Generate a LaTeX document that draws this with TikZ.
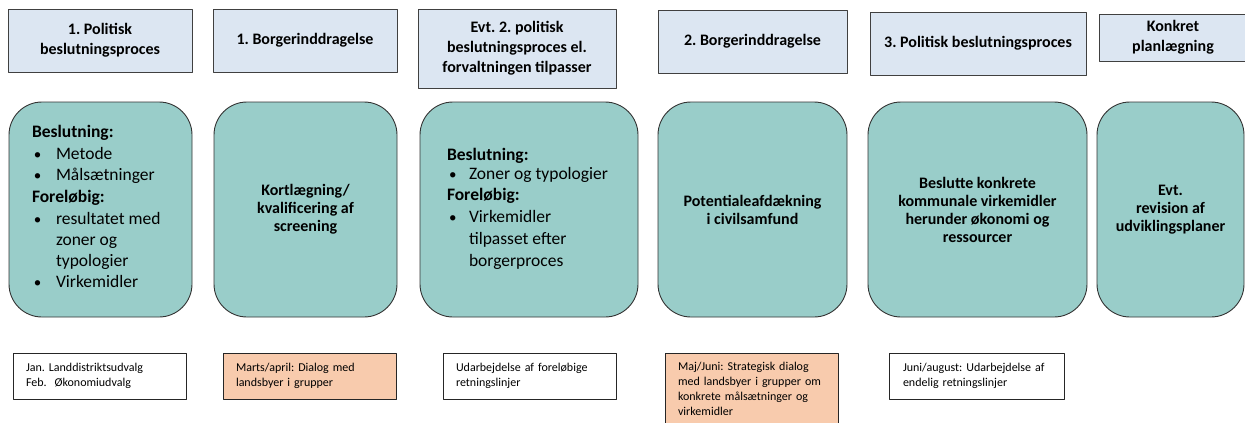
\documentclass[tikz,border=0pt]{standalone}
\usepackage{fontspec}
\setmainfont{Carlito}
\usepackage{tikz}
\usetikzlibrary{shadows}
\frenchspacing

\definecolor{phaseblue}{RGB}{220,230,242}
\definecolor{stageteal}{RGB}{153,205,201}
\definecolor{noteorange}{RGB}{248,203,173}

\begin{document}
\begin{tikzpicture}[
						x=1pt, y=-1pt,
						every node/.style={inner sep=0pt, outer sep=0pt},
						line cap=round,
						line join=round,
						phasebox/.style={draw=black!75, line width=0.8pt, fill=phaseblue,
							align=center, font=\fontsize{16}{20}\selectfont\bfseries,
							drop shadow={shadow xshift=0.8pt, shadow yshift=-0.8pt, opacity=0.3}},
						stagebox/.style={draw=black!80, line width=0.9pt, fill=stageteal,
							rounded corners=33pt, minimum height=215pt,
							align=center, font=\fontsize{16}{18}\selectfont\bfseries},
						listhead/.style={anchor=mid west, font=\fontsize{17.5}{21}\selectfont\bfseries},
						listitem/.style={anchor=mid west, font=\fontsize{17.5}{21}\selectfont},
						listdot/.style={anchor=mid west, font=\fontsize{15}{21}\selectfont},
						notebox/.style={draw=black!85, line width=0.7pt, fill=white,
							text width=147pt, inner xsep=13pt, minimum height=46pt,
							align=left, font=\fontsize{12}{15}\selectfont,
							drop shadow={shadow xshift=0.6pt, shadow yshift=-0.8pt, opacity=0.3}},
						notehl/.style={notebox, fill=noteorange}
						]
						
						\useasboundingbox (0,0) rectangle (1245,423);
						
						% Phases
						\node[phasebox, minimum width=184pt, minimum height=63pt] (pol1) at (100,40.5)
						{1. Politisk\\beslutningsproces};
						\node[phasebox, minimum width=184pt, minimum height=63pt] (borg1) at (305,40.5)
						{1. Borgerinddragelse};
						\node[phasebox, minimum width=198pt, minimum height=79pt] (pol2) at (517,48.5)
						{Evt. 2. politisk\\beslutningsproces el.\\forvaltningen tilpasser};
						\node[phasebox, minimum width=189pt, minimum height=63pt] (borg2) at (752.5,41.5)
						{2. Borgerinddragelse};
						\node[phasebox, minimum width=216pt, minimum height=63pt] (pol3) at (978,43.5)
						{3. Politisk beslutningsproces};
						\node[phasebox, minimum width=148pt, minimum height=47pt] (plan) at (1173,37.5)
						{Konkret\\planlægning};
						
						% Stage 1
						\node[stagebox, minimum width=183pt] (stage1) at (100.5,209.5) {};
						\node[listhead] (s1head1) at (32,135) {Beslutning:};
						\node[listhead] (s1head2) at (32,200) {Foreløbig:};
						\foreach \y in {157,178,222,285}
						\node[listdot] (s1dot\y) at (34,\y) {\textbullet};
						\foreach \y/\t in {157/Metode, 178/Målsætninger, 222/resultatet med,
							243/zoner og, 264/typologier, 285/Virkemidler}
						\node[listitem] (s1item\y) at (56,\y) {\t};
						
						% Stage 2
						\node[stagebox, minimum width=183pt] (stage2) at (305.5,209.5)
						{Kortlægning/\\kvalificering af\\screening};
						
						% Stage 3
						\node[stagebox, minimum width=218pt] (stage3) at (529,209.5) {};
						\node[listhead] (s3head1) at (447,158) {Beslutning:};
						\node[listhead] (s3head2) at (447,198) {Foreløbig:};
						\foreach \y in {177,220}
						\node[listdot] (s3dot\y) at (449,\y) {\textbullet};
						\foreach \y/\t in {177/Zoner og typologier, 220/Virkemidler,
							242/tilpasset efter, 264/borgerproces}
						\node[listitem] (s3item\y) at (469,\y) {\t};
						
						% Stage 4
						\node[stagebox, minimum width=189pt] (stage4) at (752.5,209.5)
						{Potentialeafdækning\\i civilsamfund};
						
						% Stage 5
						\node[stagebox, minimum width=219pt] (stage5) at (977.5,209.5)
						{Beslutte konkrete\\kommunale virkemidler\\herunder økonomi og\\ressourcer};
						
						% Stage 6
						\node[stagebox, minimum width=147pt] (stage6) at (1170.5,209.5)
						{Evt.\\revision af\\udviklingsplaner};
						
						% Notes
						\node[notebox] (note1) at (99.5,376)
						{Jan. Landdistriktsudvalg\\Feb.~~Økonomiudvalg};
						\node[notehl] (note2) at (309.5,376)
						{Marts/april: Dialog med\\landsbyer i grupper};
						\node[notebox] (note3) at (529.5,376)
						{Udarbejdelse af foreløbige\\retningslinjer};
						\node[notehl, minimum height=72pt] (note4) at (751.5,389)
						{Maj/Juni: Strategisk dialog\\med landsbyer i grupper om\\konkrete målsætninger og\\virkemidler};
						\node[notebox, minimum width=175pt] (note5) at (976.5,376)
						{Juni/august: Udarbejdelse af\\endelig retningslinjer};
						
					\end{tikzpicture}
\end{document}
